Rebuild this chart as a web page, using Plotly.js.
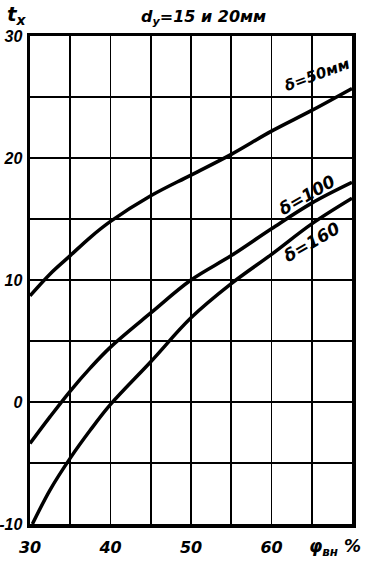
<!DOCTYPE html>
<html><head><meta charset="utf-8">
<script src="https://cdn.plot.ly/plotly-3.0.1.min.js"></script>
<style>html,body{margin:0;padding:0;background:#fff}#c{width:370px;height:570px}</style>
</head><body><div id="c"></div>
<script>
const phi = [30, 32.5, 35, 37.5, 40, 45, 50, 55, 60, 65, 70];
const t50 = [8.7, 10.5, 12.0, 13.5, 14.8, 16.9, 18.6, 20.3, 22.2, 23.9, 25.7];
const t100 = [-3.4, -1.2, 0.9, 2.8, 4.5, 7.3, 10.0, 12.0, 14.2, 16.3, 18.0];
const phi160 = [30.3, 32.5, 35, 37.5, 40, 45, 50, 55, 60, 65, 70];
const t160 = [-10, -7.2, -4.6, -2.3, -0.2, 3.3, 6.9, 9.7, 12.1, 14.6, 16.7];
const xTicks = [30, 35, 40, 45, 50, 55, 60, 65, 70];
const xTickText = ['30', ' ', '40', ' ', '50', ' ', '60', ' ', ' '];
const yTicks = [-10, -5, 0, 5, 10, 15, 20, 25, 30];
const yTickText = ['-10', ' ', '0', ' ', '10', ' ', '20', ' ', '30'];

const F = 'DejaVu Sans, sans-serif';
const fnt = (s, w) => ({family: F, size: s, color: '#000', style: 'italic', weight: w || 'bold'});
const yfnt = {family: 'Liberation Sans, Arial, sans-serif', size: 16, color: '#000', style: 'italic', weight: 'bold'};
const line = {color: '#000', width: 3.5, shape: 'spline', smoothing: 1};

const data = [
  {x: phi, y: t50, mode: 'lines', line: line, hoverinfo: 'skip'},
  {x: phi, y: t100, mode: 'lines', line: line, hoverinfo: 'skip'},
  {x: phi160, y: t160, mode: 'lines', line: line, hoverinfo: 'skip'}
];

const layout = {
  width: 370, height: 570,
  margin: {l: 30, r: 18, t: 36, b: 46},
  paper_bgcolor: '#fff', plot_bgcolor: '#fff',
  showlegend: false,
  xaxis: {
    range: [30, 70], tickvals: xTicks, ticktext: xTickText,
    showgrid: true, gridcolor: '#000', gridwidth: 1.6,
    showline: true, mirror: true, linecolor: '#000', linewidth: 3.5,
    zeroline: false, ticks: '', tickfont: fnt(16), ticklabelstandoff: 6
  },
  yaxis: {
    range: [-10, 30], tickvals: yTicks, ticktext: yTickText,
    showgrid: true, gridcolor: '#000', gridwidth: 1.6,
    showline: true, mirror: true, linecolor: '#000', linewidth: 3.5,
    zeroline: false, ticks: '', tickfont: yfnt, ticklabelstandoff: 1
  },
  annotations: [
    {xref: 'paper', yref: 'paper', x: 0.54, xanchor: 'center', y: 1, yanchor: 'middle', yshift: 19, text: 'd<sub>y</sub>=15 и 20мм', showarrow: false, font: fnt(16)},
    {xref: 'paper', yref: 'paper', x: -0.04, xanchor: 'center', y: 1, yanchor: 'middle', yshift: 21, text: 't<sub>x</sub>', showarrow: false, font: fnt(20)},
    {xref: 'paper', yref: 'paper', x: 0.947, xanchor: 'center', y: 0, yanchor: 'middle', yshift: -23, text: 'φ<sub>вн</sub> %', showarrow: false, font: fnt(17)},
    {x: 65.6, y: 26.8, xanchor: 'center', yanchor: 'middle', text: 'δ=50мм', showarrow: false, textangle: -20, font: fnt(15)},
    {x: 64.4, y: 17.0, xanchor: 'center', yanchor: 'middle', text: 'δ=100', showarrow: false, textangle: -30, font: fnt(17)},
    {x: 65.0, y: 13.1, xanchor: 'center', yanchor: 'middle', text: 'δ=160', showarrow: false, textangle: -30, font: fnt(17)}
  ]
};
Plotly.newPlot('c', data, layout, {staticPlot: true, displayModeBar: false});
</script></body></html>
